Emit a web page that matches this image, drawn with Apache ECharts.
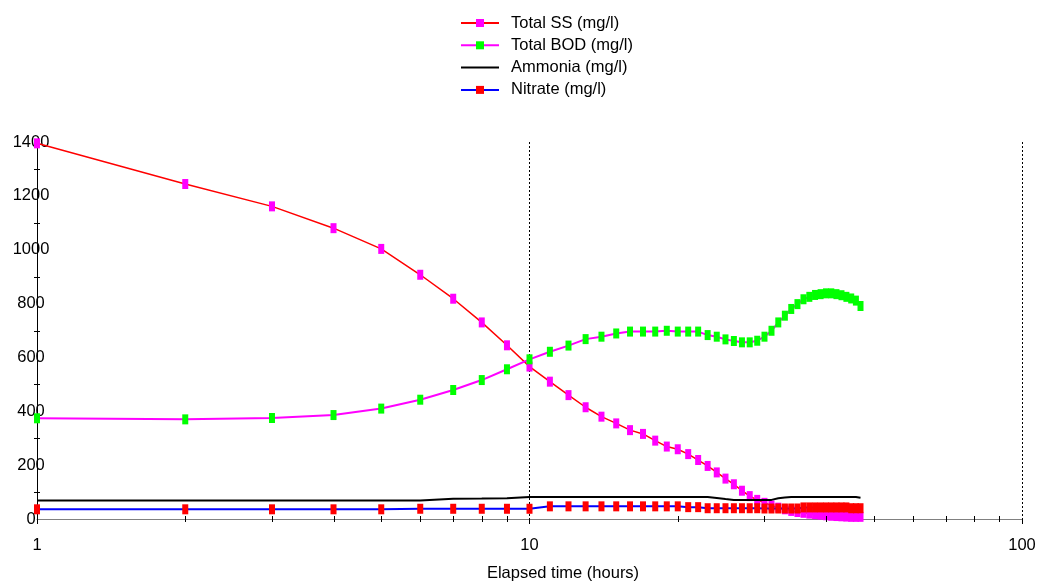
<!DOCTYPE html>
<html><head><meta charset="utf-8">
<script src="https://cdn.jsdelivr.net/npm/echarts@6/dist/echarts.min.js"></script>
<style>html,body{margin:0;padding:0;background:#fff}#c{width:1045px;height:581px}</style>
</head><body><div id="c"></div>
<script>
const hours = [1,2,3,4,5,6,7,8,9,10,11,12,13,14,15,16,17,18,19,20,21,22,23,24,25,26,27,28,29,30,31,32,33,34,35,36,37,38,39,40,41,42,43,44,45,46,47];
const totalSS = [1395,1244,1161,1080,1003,907,818,730,645,566,510,460,415,380,355,330,316,291,269,259,241,219,197,173,150,129,105,85,71,60,50,42,36,30,26,23,20,18,16,14,12,11,10,9,8,8,8];
const totalBOD = [374,370,375,386,410,443,479,516,556,593,621,644,668,677,689,696,696,696,699,696,696,696,683,677,667,661,656,656,662,677,699,730,755,780,798,816,825,832,835,838,838,835,831,825,819,811,791];
const ammonia = [69,69,69,69,69,69,75,76,77,82,82,82,82,82,82,82,82,82,82,82,82,82,82,78,74,71,71,71,71,71,71,77,80,82,82,82,82,82,82,82,82,82,82,82,82,82,79];
const nitrate = [36,36,36,36,36,38,38,38,38,38,47,47,47,47,47,47,47,47,47,47,44,44,40,40,40,40,40,40,40,39,39,39,39,39,39,43,43,43,43,43,43,43,43,43,40,40,40];
const xMinorTicks = [2,3,4,5,6,7,8,9,20,30,40,50,60,70,80,90];
const yMinorTicks = [100,300,500,700,900,1100,1300];
const seriesNames = ['Total SS (mg/l)','Total BOD (mg/l)','Ammonia (mg/l)','Nitrate (mg/l)'];

const FONT = '"Liberation Sans", Arial, sans-serif';
function pairs(vals){ return hours.map((h,i)=>[h, vals[i]]); }

const chart = echarts.init(document.getElementById('c'), null, {renderer:'canvas'});
chart.setOption({
  animation: false,
  backgroundColor: '#fff',
  grid: {left: 37, right: 23, top: 142, bottom: 62, containLabel: false, outerBoundsMode: 'none'},
  legend: {
    orient: 'vertical', left: 455, top: 8,
    itemWidth: 38, itemHeight: 10, itemGap: 2.3,
    selectedMode: false,
    itemStyle: {borderWidth: 0},
    textStyle: {fontFamily: FONT, fontSize: 16.5, color: '#000', lineHeight: 20, padding: [0,0,0,7]},
    data: [
      {name: seriesNames[0]},
      {name: seriesNames[1]},
      {name: seriesNames[2], itemStyle: {color: 'rgba(0,0,0,0)', borderWidth: 0}},
      {name: seriesNames[3]}
    ]
  },
  xAxis: {
    type: 'log', logBase: 10, min: 1, max: 100,
    name: 'Elapsed time (hours)', nameLocation: 'middle', nameGap: 46,
    nameTextStyle: {fontFamily: FONT, fontSize: 16.5, color: '#000', padding: [0,0,0,67]},
    axisLine: {lineStyle: {color: '#808080', width: 1}},
    axisTick: {show: true, length: 5, lineStyle: {color: '#000'}},
    axisLabel: {fontFamily: FONT, fontSize: 16.5, color: '#000', margin: 18},
    splitLine: {show: true, lineStyle: {color: '#000', type: [2,2], width: 1}},
    minorTick: {show: false}
  },
  yAxis: {
    type: 'value', min: 0, max: 1400, interval: 200,
    axisLine: {show: true, lineStyle: {color: '#000', width: 1}},
    axisTick: {show: false},
    axisLabel: {fontFamily: FONT, fontSize: 16.5, color: '#000', margin: 6, align: 'center',
      formatter: function(v){ return String(v); }},
    splitLine: {show: false}
  },
  series: [
    {
      name: seriesNames[0], type: 'line', data: pairs(totalSS),
      symbol: 'rect', symbolSize: [6,10], showSymbol: true,
      lineStyle: {color: '#ff0000', width: 1.5},
      itemStyle: {color: '#ff00ff', borderWidth: 0},
      emphasis: {disabled: true}, z: 2
    },
    {
      name: seriesNames[1], type: 'line', data: pairs(totalBOD),
      symbol: 'rect', symbolSize: [6,10], showSymbol: true,
      lineStyle: {color: '#ff00ff', width: 2},
      itemStyle: {color: '#00ff00', borderWidth: 0},
      emphasis: {disabled: true}, z: 3
    },
    {
      name: seriesNames[2], type: 'line', data: pairs(ammonia),
      symbol: 'none', showSymbol: false,
      lineStyle: {color: '#000000', width: 2},
      itemStyle: {color: '#000000', borderWidth: 0},
      emphasis: {disabled: true}, z: 4
    },
    {
      name: seriesNames[3], type: 'line', data: pairs(nitrate),
      symbol: 'rect', symbolSize: [6,10], showSymbol: true,
      lineStyle: {color: '#0000ff', width: 2},
      itemStyle: {color: '#ff0000', borderWidth: 0},
      emphasis: {disabled: true}, z: 5
    },
    {
      name: 'xticks', type: 'custom', silent: true, z: 6,
      data: xMinorTicks.map(v => [v, 0]),
      renderItem: function(params, api){
        const p = api.coord([api.value(0), 0]);
        const x = Math.round(p[0]) + 0.5;
        return {type: 'line', shape: {x1: x, y1: p[1]-3, x2: x, y2: p[1]+3}, style: {stroke: '#000', lineWidth: 1}};
      }
    },
    {
      name: 'yticks', type: 'custom', silent: true, z: 6,
      data: yMinorTicks.map(v => [1, v]),
      renderItem: function(params, api){
        const p = api.coord([1, api.value(1)]);
        const y = Math.round(p[1]) + 0.5;
        return {type: 'line', shape: {x1: p[0]-3, y1: y, x2: p[0]+3, y2: y}, style: {stroke: '#000', lineWidth: 1}};
      }
    }
  ]
});
</script>
</body></html>
